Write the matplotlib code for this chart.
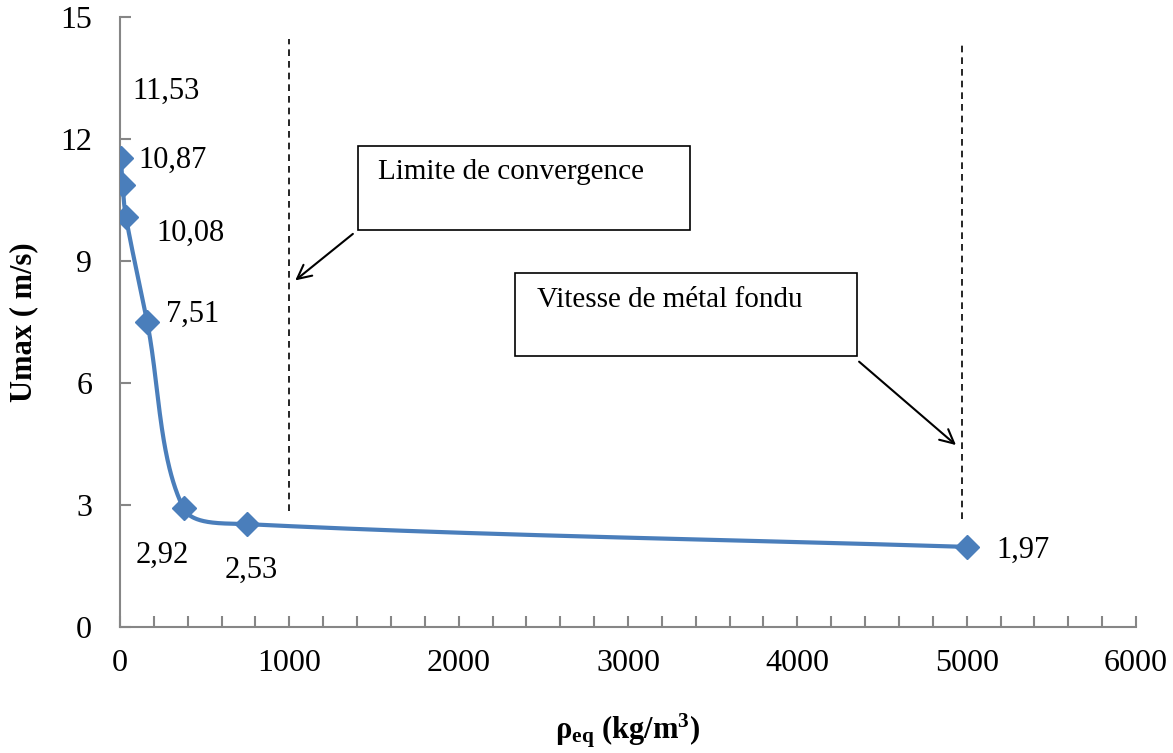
import numpy as np
import matplotlib
matplotlib.use("Agg")
import matplotlib.pyplot as plt
from matplotlib.patches import Rectangle

# data
rho_eq = [5, 15, 35, 160, 375, 750, 5000]
u_max = [11.53, 10.87, 10.08, 7.51, 2.92, 2.53, 1.97]
point_labels = ["11,53", "10,87", "10,08", "7,51", "2,92", "2,53", "1,97"]
# label offsets in pixels (dx, dy) from each point
label_offsets = [(45, 67), (50, 25), (65, -16), (46, 7), (-21, -47), (4, -46), (56, -3)]

x_ticks = [0, 1000, 2000, 3000, 4000, 5000, 6000]
y_ticks = [0, 3, 6, 9, 12, 15]

plt.rcParams['font.family'] = ['Liberation Serif', 'DejaVu Serif']
plt.rcParams['mathtext.fontset'] = 'custom'
plt.rcParams['mathtext.rm'] = 'Liberation Serif'
plt.rcParams['mathtext.bf'] = 'Liberation Serif:bold'
plt.rcParams['mathtext.it'] = 'Liberation Serif:italic'

blue = '#4A7EBB'
axis_gray = '#868686'


def smooth_curve(xs, ys, xr, yr, n=80):
    # smoothed line like Excel, tangents scaled by chord lengths in screen space
    p = np.column_stack([np.array(xs) / xr, np.array(ys) / yr])
    m = len(p)
    d = np.linalg.norm(np.diff(p, axis=0), axis=1)
    tang = np.zeros_like(p)
    for i in range(m):
        if i == 0:
            tang[i] = (p[1] - p[0]) / d[0]
        elif i == m - 1:
            tang[i] = (p[-1] - p[-2]) / d[-1]
        else:
            tang[i] = (p[i + 1] - p[i - 1]) / (d[i - 1] + d[i])
    out = []
    for i in range(m - 1):
        p1, p2 = p[i], p[i + 1]
        c1 = p1 + tang[i] * d[i] / 3
        c2 = p2 - tang[i + 1] * d[i] / 3
        t = np.linspace(0, 1, n)[:, None]
        seg = ((1 - t) ** 3) * p1 + 3 * ((1 - t) ** 2) * t * c1 + 3 * (1 - t) * t ** 2 * c2 + t ** 3 * p2
        out.append(seg)
    out = np.vstack(out)
    return out[:, 0] * xr, out[:, 1] * yr


fig = plt.figure(figsize=(11.73, 7.53), dpi=100)
ax = fig.add_axes([0.1023, 0.1673, 0.8662, 0.8101])

xs, ys = smooth_curve(rho_eq, u_max, 6000 / 1016, 15 / 610)
ax.plot(xs, ys, color=blue, lw=3, solid_capstyle='round', zorder=3)
ax.plot(rho_eq, u_max, linestyle='none', marker='D', ms=12, color=blue, zorder=4)

for x, y, lab, (dx, dy) in zip(rho_eq, u_max, point_labels, label_offsets):
    ax.annotate(lab, (x, y), xytext=(dx, dy), textcoords='offset pixels',
                ha='center', va='center', fontsize=22)

# vertical dashed lines
ax.plot([1000, 1000], [2.85, 14.45], color='black', lw=1.2, ls=(0, (4, 3)))
ax.plot([4970, 4970], [2.65, 14.35], color='black', lw=1.2, ls=(0, (4, 3)))

# annotation boxes
ax.add_patch(Rectangle((0.234, 0.651), 0.327, 0.138, transform=ax.transAxes,
                       fill=False, ec='black', lw=1.2, clip_on=False))
ax.text(0.254, 0.746, "Limite de convergence", transform=ax.transAxes,
        fontsize=21, va='center', ha='left')
ax.add_patch(Rectangle((0.389, 0.444), 0.336, 0.136, transform=ax.transAxes,
                       fill=False, ec='black', lw=1.2, clip_on=False))
ax.text(0.410, 0.536, "Vitesse de métal fondu", transform=ax.transAxes,
        fontsize=21, va='center', ha='left')

ax.annotate("", xy=(1022, 8.48), xytext=(1388, 9.71),
            arrowprops=dict(arrowstyle='->', color='black', lw=1.5, mutation_scale=25))
ax.annotate("", xy=(4949, 4.43), xytext=(4352, 6.57),
            arrowprops=dict(arrowstyle='->', color='black', lw=1.5, mutation_scale=25))

ax.set_xlim(0, 6000)
ax.set_ylim(0, 15)
ax.set_xticks(x_ticks)
ax.set_xticks(np.arange(0, 6001, 200), minor=True)
ax.set_yticks(y_ticks)
ax.tick_params(axis='both', which='both', direction='in', color=axis_gray,
               labelsize=23, length=8, width=1.5)
ax.tick_params(axis='x', pad=16)
ax.tick_params(axis='y', pad=20)

for side in ['top', 'right']:
    ax.spines[side].set_visible(False)
for side in ['left', 'bottom']:
    ax.spines[side].set_color(axis_gray)
    ax.spines[side].set_linewidth(1.5)

ax.set_xlabel(r'$\mathbf{ρ_{eq}}$ $\mathbf{(kg/m^{3})}$', fontsize=22, labelpad=24)
ax.set_ylabel('Umax ( m/s)', fontsize=22, fontweight='bold', labelpad=16)

fig.savefig('out.png', dpi=100)
